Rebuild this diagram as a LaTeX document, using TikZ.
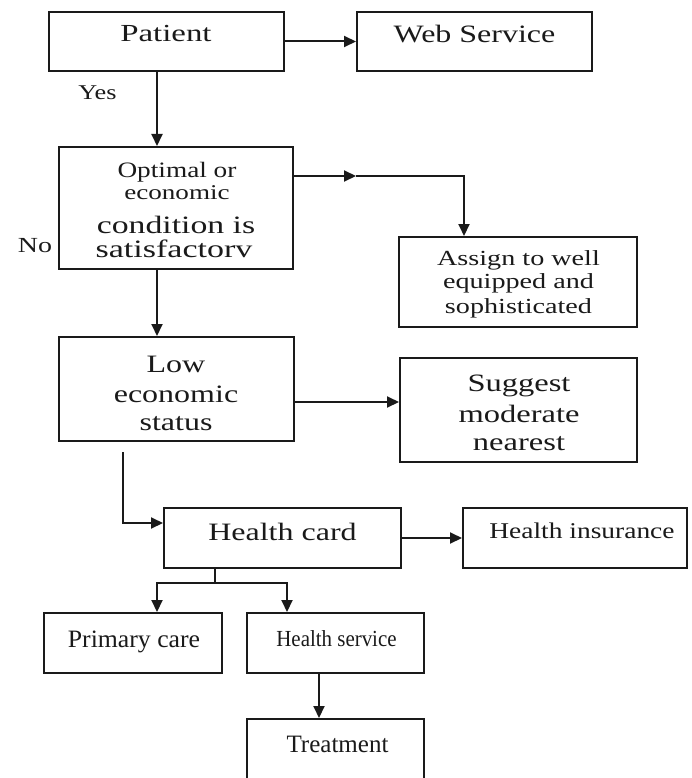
\documentclass[tikz,border=0pt]{standalone}
\usepackage{fontspec}
\setmainfont{Liberation Serif}
\usetikzlibrary{arrows.meta}
\definecolor{ink}{HTML}{1A1A1A}
% size and horizontal stretch of a label
\newcommand\lblfont[2]{\fontsize{#1}{#1}\selectfont\addfontfeature{FakeStretch=#2}}

\begin{document}
\begin{tikzpicture}[x=1pt,y=-1pt,
  box/.style={draw=ink, line width=2pt, fill=white, inner sep=0pt},
  txt/.style={inner sep=0pt, anchor=base, text=ink},
  link/.style={draw=ink, line width=2pt},
  arr/.style={link, -{Triangle[length=12pt,width=11pt]}}]

\useasboundingbox (0,0) rectangle (691,778);
\clip (0,0) rectangle (691,778);

% boxes
\node[box, minimum width=235pt, minimum height=59pt]  (patient)   at (166.5,41.5) {};
\node[box, minimum width=235pt, minimum height=59pt]  (web)       at (474.5,41.5) {};
\node[box, minimum width=234pt, minimum height=122pt] (optimal)   at (176,208) {};
\node[box, minimum width=238pt, minimum height=90pt]  (assign)    at (518,282) {};
\node[box, minimum width=235pt, minimum height=104pt] (low)       at (176.5,389) {};
\node[box, minimum width=237pt, minimum height=104pt] (suggest)   at (518.5,410) {};
\node[box, minimum width=237pt, minimum height=60pt]  (card)      at (282.5,538) {};
\node[box, minimum width=224pt, minimum height=60pt]  (insurance) at (575,538) {};
\node[box, minimum width=178pt, minimum height=60pt]  (primary)   at (133,643) {};
\node[box, minimum width=177pt, minimum height=60pt]  (hservice)  at (335.5,643) {};
\node[box, minimum width=177pt, minimum height=90pt]  (treatment) at (335.5,764) {};

% labels
\node[txt] (tPatient) at (166,42) {\lblfont{24.5}{1.34}Patient};
\node[txt] (tWeb) at (474.5,43) {\lblfont{25}{1.28}Web Service};
\node[txt] (tYes) at (97.5,100) {\lblfont{21}{1.25}Yes};
\node[txt] (tOpt1) at (177,178) {\lblfont{22}{1.24}Optimal or};
\node[txt] (tOpt2) at (177,199) {\lblfont{21}{1.29}economic};
\node[txt] (tOpt3) at (176,233) {\lblfont{25}{1.35}condition is};
\node[txt] (tOpt4) at (174,257) {\lblfont{25}{1.36}satisfactorv};
\node[txt] (tNo) at (35,252) {\lblfont{21.5}{1.3}No};
\node[txt] (tAs1) at (518.5,265) {\lblfont{21.5}{1.31}Assign to well};
\node[txt] (tAs2) at (518.5,288) {\lblfont{21.5}{1.31}equipped and};
\node[txt] (tAs3) at (518.5,313) {\lblfont{21.5}{1.31}sophisticated};
\node[txt] (tLow1) at (176,372) {\lblfont{25}{1.28}Low};
\node[txt] (tLow2) at (176,402) {\lblfont{25}{1.28}economic};
\node[txt] (tLow3) at (176,430) {\lblfont{25}{1.28}status};
\node[txt] (tSug1) at (519,391) {\lblfont{25}{1.3}Suggest};
\node[txt] (tSug2) at (519,422) {\lblfont{25}{1.3}moderate};
\node[txt] (tSug3) at (519,450) {\lblfont{25}{1.3}nearest};
\node[txt] (tCard) at (282.5,540) {\lblfont{25}{1.28}Health card};
\node[txt] (tIns) at (582,538) {\lblfont{22.5}{1.22}Health insurance};
\node[txt] (tPrim) at (134,647) {\lblfont{25}{1.03}Primary care};
\node[txt] (tHs) at (336.5,646) {\lblfont{23}{0.91}Health service};
\node[txt] (tTreat) at (337.5,752) {\lblfont{25}{1.0}Treatment};

% routing points
\coordinate (spine) at (157,0);
\coordinate (midtip) at (356,176);
\coordinate (bend) at (464,176);
\coordinate (lowout) at (0,402);
\coordinate (freestart) at (123,452);
\coordinate (cardin) at (123,523);
\coordinate (stem) at (215,0);
\coordinate (fork) at (0,583);
\coordinate (forkL) at (157,583);
\coordinate (forkR) at (287,583);
\coordinate (down) at (319,0);

% connectors
\draw[arr] (patient.east) -- (web.west);
\draw[arr] (patient.south -| spine) -- (optimal.north -| spine);
\draw[arr] (optimal.east |- midtip) -- (midtip);
\draw[arr] (midtip) -- (bend) -- (assign.north -| bend);
\draw[arr] (optimal.south -| spine) -- (low.north -| spine);
\draw[arr] (low.east |- lowout) -- (suggest.west |- lowout);
\draw[arr] (freestart) -- (cardin) -- (card.west |- cardin);
\draw[arr] (card.east) -- (insurance.west);
\draw[link] (card.south -| stem) -- (fork -| stem);
\draw[arr] (forkR) -- (forkL) -- (primary.north -| forkL);
\draw[arr] (forkL) -- (forkR) -- (hservice.north -| forkR);
\draw[arr] (hservice.south -| down) -- (treatment.north -| down);

\end{tikzpicture}
\end{document}
